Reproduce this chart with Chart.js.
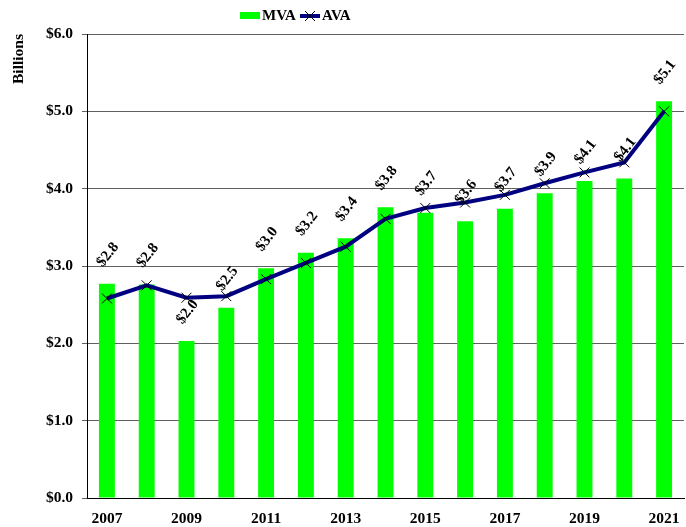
<!DOCTYPE html>
<html>
<head>
<meta charset="utf-8">
<script src="https://cdn.jsdelivr.net/npm/chart.js@4"></script>
<style>
  html, body { margin: 0; padding: 0; background: #fff; overflow: hidden; }
  #wrap { width: 692px; height: 527px; }
</style>
</head>
<body>
<div id="wrap"><canvas id="chart" width="692" height="527"></canvas></div>
<script>
// ── Data ───────────────────────────────────────────────────────────
const years = ['2007', '2008', '2009', '2010', '2011', '2012', '2013', '2014',
               '2015', '2016', '2017', '2018', '2019', '2020', '2021'];
const mva = [2.77, 2.76, 2.03, 2.46, 2.97, 3.17, 3.36, 3.76,
             3.69, 3.58, 3.74, 3.94, 4.10, 4.13, 5.13];
const ava = [2.58, 2.75, 2.59, 2.61, 2.83, 3.04, 3.25, 3.61,
             3.75, 3.82, 3.92, 4.07, 4.21, 4.34, 5.00];
const yTicks = [0, 1, 2, 3, 4, 5, 6];

const FONT = "'Liberation Serif', 'Times New Roman', serif";
const GREEN = '#00ff00';
const NAVY = '#000080';

Chart.defaults.font.family = FONT;
Chart.defaults.font.weight = 'bold';
Chart.defaults.font.size = 15.5;
Chart.defaults.color = '#000';

// rotated value labels above each bar
const barLabels = {
  id: 'barLabels',
  afterDatasetsDraw(chart) {
    const meta = chart.getDatasetMeta(0);
    const ctx = chart.ctx;
    ctx.save();
    ctx.font = `bold 15px ${FONT}`;
    ctx.fillStyle = '#000';
    ctx.textAlign = 'center';
    ctx.textBaseline = 'middle';
    meta.data.forEach((bar, i) => {
      ctx.save();
      ctx.translate(bar.x + 1, bar.y - 29);
      ctx.rotate(-52 * Math.PI / 180);
      ctx.fillText('$' + mva[i].toFixed(1), 0, 0);
      ctx.restore();
    });
    ctx.restore();
  },
};

// legend drawn by hand so it sits off-centre like the original
const legendPlugin = {
  id: 'legendPlugin',
  afterDraw(chart) {
    const ctx = chart.ctx;
    const ds = chart.data.datasets;
    ctx.save();
    ctx.font = `bold 15px ${FONT}`;
    ctx.fillStyle = '#000';
    ctx.textBaseline = 'middle';
    const cy = 16;
    // MVA
    ctx.fillStyle = ds[0].backgroundColor;
    ctx.fillRect(240, cy - 4, 20, 7);
    ctx.fillStyle = '#000';
    ctx.fillText(ds[0].label, 262, cy);
    // AVA
    ctx.strokeStyle = ds[1].borderColor;
    ctx.lineWidth = 4;
    ctx.beginPath();
    ctx.moveTo(300, cy);
    ctx.lineTo(320, cy);
    ctx.stroke();
    ctx.strokeStyle = '#000';
    ctx.lineWidth = 1;
    ctx.beginPath();
    ctx.moveTo(305, cy - 5); ctx.lineTo(315, cy + 5);
    ctx.moveTo(315, cy - 5); ctx.lineTo(305, cy + 5);
    ctx.stroke();
    ctx.fillText(ds[1].label, 322, cy);
    ctx.restore();
  },
};

new Chart(document.getElementById('chart'), {
  type: 'bar',
  data: {
    labels: years,
    datasets: [
      {
        type: 'bar',
        label: 'MVA',
        data: mva,
        backgroundColor: GREEN,
        borderWidth: 0,
        barPercentage: 0.4,
        categoryPercentage: 1.0,
        order: 2,
      },
      {
        type: 'line',
        label: 'AVA',
        data: ava,
        borderColor: NAVY,
        backgroundColor: NAVY,
        borderWidth: 4,
        tension: 0,
        pointStyle: 'crossRot',
        pointRadius: 7,
        pointBorderColor: '#000',
        pointBorderWidth: 1,
        order: 1,
      },
    ],
  },
  options: {
    responsive: false,
    animation: false,
    layout: { padding: { top: 34, right: 1, left: 0, bottom: 0 } },
    plugins: {
      legend: { display: false },
      tooltip: { enabled: false },
    },
    scales: {
      x: {
        grid: { display: false, drawTicks: false },
        border: { display: true, color: '#000', width: 1 },
        ticks: {
          autoSkip: false,
          maxRotation: 0,
          padding: 12,
          callback: (v, i) => (i % 2 === 0 ? years[i] : ''),
        },
        afterFit: (scale) => { scale.height = 29; },
      },
      y: {
        min: 0,
        max: 6,
        afterBuildTicks: (scale) => { scale.ticks = yTicks.map(v => ({ value: v })); },
        grid: { color: '#606060', lineWidth: 1, tickLength: 5 },
        border: { display: true, color: '#000', width: 1 },
        ticks: {
          padding: 9,
          callback: (v) => '$' + Number(v).toFixed(1),
        },
        title: {
          display: true,
          text: 'Billions',
          align: 'end',
          padding: { top: 10, bottom: 0 },
        },
        afterFit: (scale) => { scale.width = 87; },
      },
    },
  },
  plugins: [barLabels, legendPlugin],
});
</script>
</body>
</html>
